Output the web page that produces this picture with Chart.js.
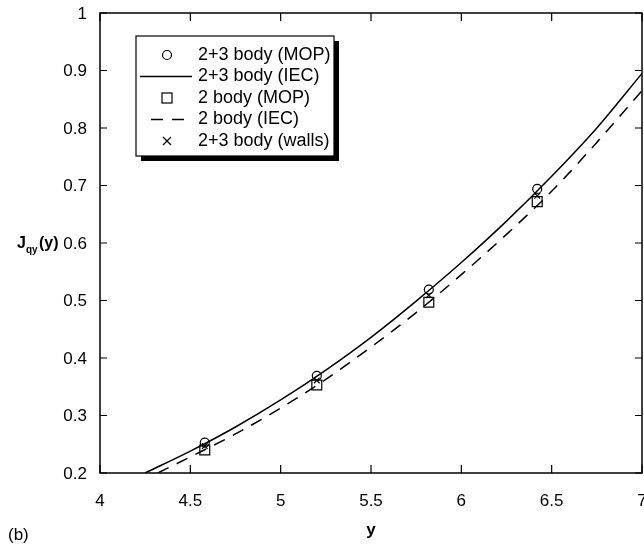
<!DOCTYPE html>
<html>
<head>
<meta charset="utf-8">
<script src="https://cdn.jsdelivr.net/npm/chart.js@4.4.1/dist/chart.umd.min.js"></script>
<style>
  html, body { margin: 0; padding: 0; background: #fff; }
  #wrap { width: 644px; height: 548px; position: relative; }
</style>
</head>
<body>
<div id="wrap"><canvas id="grafico" width="644" height="548"></canvas></div>
<script>
    // Dados
    const xMop = [4.58, 5.2, 5.82, 6.42];
    const mop23 = [0.253, 0.369, 0.519, 0.694];
    const mop2 = [0.240, 0.353, 0.497, 0.672];
    const walls23 = [0.247, 0.361, 0.509, 0.682];

    const xIec23 = [4.25, 4.5, 4.75, 5, 5.25, 5.5, 5.75, 6, 6.25, 6.5, 6.75, 7];
    const iec23 = [0.2, 0.238, 0.28, 0.327, 0.379, 0.436, 0.499, 0.566, 0.638, 0.716, 0.80, 0.895];
    const xIec2 = [4.32, 4.5, 4.75, 5, 5.25, 5.5, 5.75, 6, 6.25, 6.5, 6.75, 7];
    const iec2 = [0.2, 0.228, 0.268, 0.313, 0.363, 0.419, 0.479, 0.545, 0.615, 0.69, 0.775, 0.865];

    const xTicks = [4, 4.5, 5, 5.5, 6, 6.5, 7];
    const yTicks = [0.2, 0.3, 0.4, 0.5, 0.6, 0.7, 0.8, 0.9, 1];
    const legendLabels = ["2+3 body (MOP)", "2+3 body (IEC)", "2 body (MOP)", "2 body (IEC)", "2+3 body (walls)"];

    const FONT = "'Liberation Sans', Arial, sans-serif";
    const pts = (xs, ys) => xs.map((x, i) => ({ x: x, y: ys[i] }));

    // moldura, ticks internos, rótulos, legenda e títulos
    const extras = {
      id: 'extras',
      afterDraw(chart) {
        const ctx = chart.ctx;
        const a = chart.chartArea;
        const sx = chart.scales.x, sy = chart.scales.y;
        ctx.save();
        ctx.strokeStyle = '#000';
        ctx.lineWidth = 1.5;
        ctx.strokeRect(a.left, a.top, a.right - a.left, a.bottom - a.top);
        ctx.lineWidth = 1.2;
        ctx.beginPath();
        xTicks.forEach(v => {
          const p = sx.getPixelForValue(v);
          ctx.moveTo(p, a.bottom); ctx.lineTo(p, a.bottom - 8);
          ctx.moveTo(p, a.top); ctx.lineTo(p, a.top + 8);
        });
        yTicks.forEach(v => {
          const p = sy.getPixelForValue(v);
          ctx.moveTo(a.left, p); ctx.lineTo(a.left + 7, p);
          ctx.moveTo(a.right, p); ctx.lineTo(a.right - 7, p);
        });
        ctx.stroke();

        // rótulos dos ticks
        ctx.fillStyle = '#000';
        ctx.font = '17px ' + FONT;
        ctx.textBaseline = 'middle';
        ctx.textAlign = 'center';
        xTicks.forEach(v => ctx.fillText(String(v), sx.getPixelForValue(v), 501));
        ctx.textAlign = 'right';
        yTicks.forEach(v => ctx.fillText(String(v), 87, sy.getPixelForValue(v) + 1));

        // legenda
        const bx = 136, by = 36, bw = 198, bh = 120;
        ctx.fillStyle = '#000';
        ctx.fillRect(bx + 5, by + 5, bw, bh);
        ctx.fillStyle = '#fff';
        ctx.fillRect(bx, by, bw, bh);
        ctx.lineWidth = 1.2;
        ctx.strokeRect(bx, by, bw, bh);
        const rows = [55, 76.5, 98, 119.5, 141];
        const mx = 167;
        // círculo
        ctx.beginPath(); ctx.arc(mx, rows[0], 4.5, 0, Math.PI * 2); ctx.stroke();
        // linha cheia
        ctx.lineWidth = 1.5;
        ctx.beginPath(); ctx.moveTo(140, rows[1]); ctx.lineTo(192, rows[1]); ctx.stroke();
        // quadrado
        ctx.lineWidth = 1.2;
        ctx.strokeRect(mx - 5, rows[2] - 5, 10, 10);
        // tracejada
        ctx.lineWidth = 1.5;
        ctx.setLineDash([12, 9]);
        ctx.beginPath(); ctx.moveTo(151, rows[3]); ctx.lineTo(192, rows[3]); ctx.stroke();
        ctx.setLineDash([]);
        // x
        ctx.lineWidth = 1.2;
        ctx.beginPath();
        ctx.moveTo(mx - 4, rows[4] - 4); ctx.lineTo(mx + 4, rows[4] + 4);
        ctx.moveTo(mx + 4, rows[4] - 4); ctx.lineTo(mx - 4, rows[4] + 4);
        ctx.stroke();
        ctx.fillStyle = '#000';
        ctx.font = '18px ' + FONT;
        ctx.textAlign = 'left';
        legendLabels.forEach((t, i) => ctx.fillText(t, 198, rows[i]));

        // títulos dos eixos
        const yT = sy.getPixelForValue(0.6) + 1;
        ctx.font = 'bold 16px ' + FONT;
        ctx.fillText('J', 17, yT);
        ctx.font = 'bold 10px ' + FONT;
        ctx.fillText('qy', 26, yT + 6);
        ctx.font = 'bold 16px ' + FONT;
        ctx.fillText('(y)', 39, yT);
        ctx.textAlign = 'center';
        ctx.font = 'bold 17px ' + FONT;
        ctx.fillText('y', (a.left + a.right) / 2, 530);
        ctx.font = '17px ' + FONT;
        ctx.textAlign = 'left';
        ctx.fillText('(b)', 8, 535);
        ctx.restore();
      }
    };

    const ctx = document.getElementById('grafico').getContext('2d');
    new Chart(ctx, {
      type: 'scatter',
      data: {
        datasets: [
          { label: legendLabels[0], data: pts(xMop, mop23), pointStyle: 'circle', pointRadius: 4.5,
            borderColor: '#000', backgroundColor: 'rgba(0,0,0,0)', borderWidth: 1.2 },
          { label: legendLabels[1], data: pts(xIec23, iec23), showLine: true, pointRadius: 0,
            borderColor: '#000', borderWidth: 1.5, cubicInterpolationMode: 'monotone' },
          { label: legendLabels[2], data: pts(xMop, mop2), pointStyle: 'rect', pointRadius: 7,
            borderColor: '#000', backgroundColor: 'rgba(0,0,0,0)', borderWidth: 1.2 },
          { label: legendLabels[3], data: pts(xIec2, iec2), showLine: true, pointRadius: 0,
            borderColor: '#000', borderWidth: 1.5, borderDash: [12, 9], cubicInterpolationMode: 'monotone' },
          { label: legendLabels[4], data: pts(xMop, walls23), pointStyle: 'crossRot', pointRadius: 4,
            borderColor: '#000', borderWidth: 1.2 }
        ]
      },
      options: {
        responsive: false,
        animation: false,
        devicePixelRatio: 1,
        layout: { autoPadding: false, padding: { top: 13, right: 2, left: 0, bottom: 0 } },
        plugins: { legend: { display: false }, tooltip: { enabled: false } },
        scales: {
          x: {
            type: 'linear', min: 4, max: 7,
            afterBuildTicks: s => { s.ticks = xTicks.map(v => ({ value: v })); },
            afterFit: s => { s.height = 75; },
            grid: { display: false },
            border: { display: false },
            ticks: { display: false }
          },
          y: {
            type: 'linear', min: 0.2, max: 1,
            afterBuildTicks: s => { s.ticks = yTicks.map(v => ({ value: v })); },
            afterFit: s => { s.width = 100; },
            grid: { display: false },
            border: { display: false },
            ticks: { display: false }
          }
        }
      },
      plugins: [extras]
    });
</script>
</body>
</html>
